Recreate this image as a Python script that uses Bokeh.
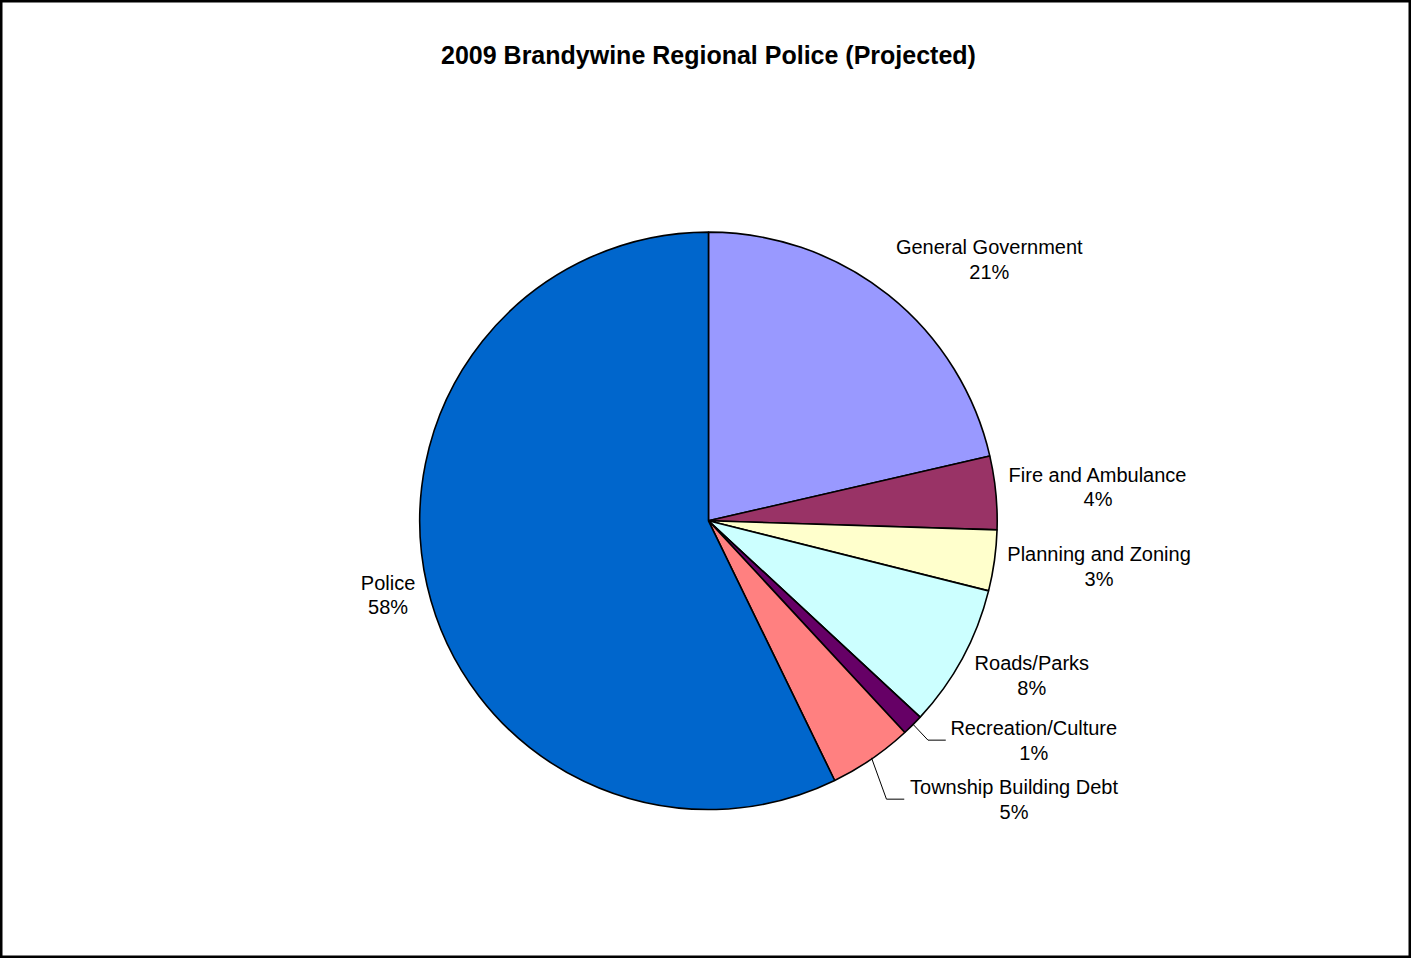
import math
from bokeh.plotting import figure
from bokeh.models import Range1d, ColumnDataSource
from bokeh.core.properties import value
from bokeh.embed import file_html
from bokeh.resources import INLINE

# ---- data ----
categories = ["General Government", "Fire and Ambulance", "Planning and Zoning",
              "Roads/Parks", "Recreation/Culture", "Township Building Debt", "Police"]
shares = [21.4, 4.1, 3.4, 8.0, 1.2, 4.7, 57.2]
pct_labels = ["21%", "4%", "3%", "8%", "1%", "5%", "58%"]
colors = ["#9999FF", "#993366", "#FFFFCC", "#CCFFFF", "#660066", "#FF8080", "#0066CC"]
title = "2009 Brandywine Regional Police (Projected)"

# ---- layout (reference pixel coordinates) ----
RW, RH = 1427, 974
W, H = 1411, 958
def Y(py):
    return RH - py

cx, cy, R = 716, 529, 292
label_pos = [(1000, 251), (1110, 482), (1111, 563), (1043, 674), (1045, 740), (1025, 800), (392, 592)]
line_gap = 25
leaders = {4: (938, 752, 956), 5: (896, 812, 914)}

p = figure(width=W, height=H, output_backend="svg", toolbar_location=None,
           x_range=Range1d(0, RW), y_range=Range1d(0, RH),
           min_border=0, background_fill_color="white", border_fill_color="white")
p.axis.visible = False
p.grid.visible = False
p.outline_line_color = "black"
p.outline_line_width = 4

total = sum(shares)
starts, ends, mids = [], [], []
c = 0.0
for s in shares:
    a0 = math.pi / 2 - 2 * math.pi * c / total
    c += s
    a1 = math.pi / 2 - 2 * math.pi * c / total
    starts.append(a0)
    ends.append(a1)
    mids.append((a0 + a1) / 2)

src = ColumnDataSource(dict(x=[cx] * len(shares), y=[Y(cy)] * len(shares),
                            start=starts, end=ends, color=colors))
p.wedge(x="x", y="y", radius=R, start_angle="start", end_angle="end", direction="clock",
        fill_color="color", line_color="black", line_width=1.6, source=src)

# leader lines
for i, (ex, ey, endx) in leaders.items():
    sx = cx + R * math.cos(mids[i])
    sy = Y(cy) + R * math.sin(mids[i])
    p.line([sx, ex, endx], [sy, Y(ey), Y(ey)], line_color="black", line_width=1)

# labels
lx = [q[0] for q in label_pos]
ly1 = [Y(q[1]) for q in label_pos]
ly2 = [Y(q[1] + line_gap) for q in label_pos]
p.text(x=lx, y=ly1, text=categories, text_align="center", text_baseline="middle",
       text_font=value("Liberation Sans"), text_font_size="20px", text_color="black")
p.text(x=lx, y=ly2, text=pct_labels, text_align="center", text_baseline="middle",
       text_font=value("Liberation Sans"), text_font_size="20px", text_color="black")

# title
p.text(x=[716], y=[Y(55)], text=[title], text_align="center", text_baseline="middle",
       text_font=value("Liberation Sans"), text_font_size="25px", text_font_style="bold",
       text_color="black")

open("out.html", "w").write(file_html(p, INLINE))
